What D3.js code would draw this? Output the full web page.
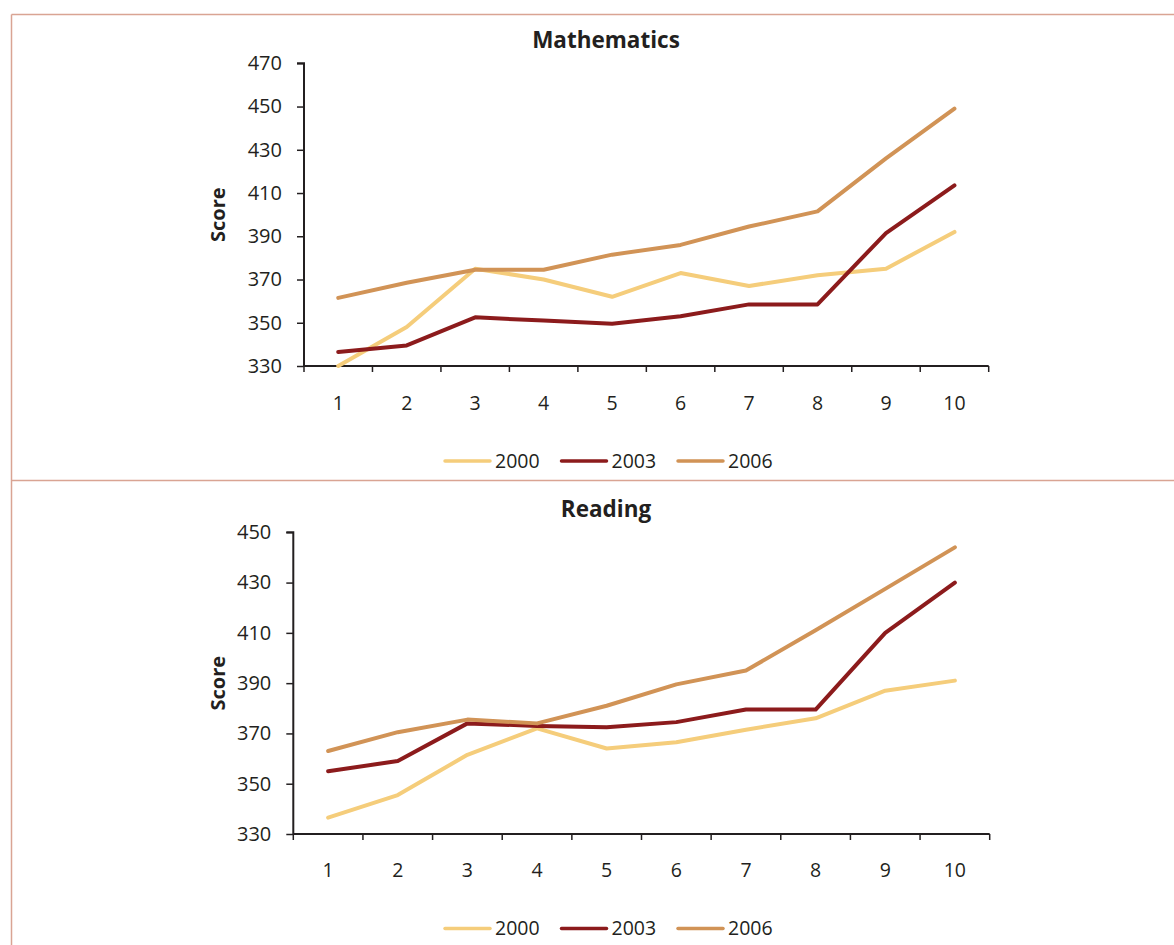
<!DOCTYPE html>
<html>
<head>
<meta charset="utf-8">
<script src="https://cdn.jsdelivr.net/npm/d3@7"></script>
<style>
  html, body { margin: 0; padding: 0; background: #fff; }
  svg { display: block; }
  text { font-family: "Open Sans", "Noto Sans", sans-serif; fill: #231f20; }
</style>
</head>
<body>
<div id="chart"></div>
<script>
// ---- Data ----
const categories = ["1", "2", "3", "4", "5", "6", "7", "8", "9", "10"];
const seriesNames = ["2000", "2003", "2006"];
const seriesColors = ["#f5cd7b", "#8c1b1c", "#d19356"];

const mathTitle = "Mathematics";
const math2000 = [330, 348, 375, 370, 362, 373, 367, 372, 375, 392];
const math2003 = [336.5, 339.5, 352.5, 351, 349.5, 353, 358.5, 358.5, 391.5, 413.5];
const math2006 = [361.5, 368.5, 374.5, 374.5, 381.5, 386, 394.5, 401.5, 426, 449];
const mathTicks = [330, 350, 370, 390, 410, 430, 450, 470];

const readTitle = "Reading";
const read2000 = [336.5, 345.5, 361.5, 372, 364, 366.5, 371.5, 376, 387, 391];
const read2003 = [355, 359, 374, 373, 372.5, 374.5, 379.5, 379.5, 410, 430];
const read2006 = [363, 370.5, 375.5, 374, 381, 389.5, 395, 411, 427.5, 444];
const readTicks = [330, 350, 370, 390, 410, 430, 450];

const yLabel = "Score";

// ---- Layout ----
const W = 1174, H = 945;
const svg = d3.select("#chart").append("svg").attr("width", W).attr("height", H);

const frameColor = "#d9a493";
svg.append("line").attr("x1", 11.5).attr("x2", W).attr("y1", 14.5).attr("y2", 14.5)
  .attr("stroke", frameColor).attr("stroke-width", 1.5);
svg.append("line").attr("x1", 11.5).attr("x2", W).attr("y1", 480.5).attr("y2", 480.5)
  .attr("stroke", frameColor).attr("stroke-width", 1.5);
svg.append("line").attr("x1", 11.5).attr("x2", 11.5).attr("y1", 14.5).attr("y2", H)
  .attr("stroke", frameColor).attr("stroke-width", 1.5);

const panels = [
  { title: mathTitle, series: [math2000, math2003, math2006], ticks: mathTicks,
    domain: [330, 470], left: 304, right: 988.7, top: 63.3, bottom: 366,
    titleY: 48, legendY: 461, legendX: 445, xPad: 30 },
  { title: readTitle, series: [read2000, read2003, read2006], ticks: readTicks,
    domain: [330, 450], left: 293.3, right: 989.7, top: 532.3, bottom: 834,
    titleY: 517, legendY: 928.5, legendX: 445, xPad: 29 }
];

const axisColor = "#231f20";

panels.forEach(p => {
  const g = svg.append("g");
  const x = d3.scaleBand().domain(categories).range([p.left, p.right]).paddingInner(0).paddingOuter(0);
  const y = d3.scaleLinear().domain(p.domain).range([p.bottom, p.top]);

  // title
  g.append("text").attr("x", 606).attr("y", p.titleY)
    .attr("text-anchor", "middle").attr("font-weight", "bold").attr("font-size", 22.5)
    .text(p.title);

  // y axis
  const yAxis = d3.axisLeft(y).tickValues(p.ticks).tickSize(7).tickPadding(15).tickFormat(d3.format("d"));
  const ya = g.append("g").attr("transform", `translate(${p.left},0)`).call(yAxis);
  ya.select(".domain").attr("stroke", axisColor).attr("stroke-width", 2).attr("d", `M-7,${p.top}H0V${p.bottom}`);
  ya.selectAll(".tick line").attr("stroke", axisColor).attr("stroke-width", 1.5);
  ya.selectAll(".tick text").attr("font-size", 20).attr("fill", axisColor)
    .style("font-family", '"Open Sans", sans-serif');

  // x axis (labels at centres, ticks at band edges)
  const xAxis = d3.axisBottom(x).tickSize(0).tickPadding(p.xPad);
  const xa = g.append("g").attr("transform", `translate(0,${p.bottom})`).call(xAxis);
  xa.select(".domain").attr("stroke", axisColor).attr("stroke-width", 2)
    .attr("d", `M${p.left},0H${p.right}`);
  xa.selectAll(".tick text").attr("font-size", 19.5).attr("fill", axisColor)
    .style("font-family", '"Open Sans", sans-serif');
  const edges = categories.map(c => x(c)).concat([x.range()[1]]);
  xa.selectAll(".edge").data(edges).enter().append("line").attr("class", "edge")
    .attr("x1", d => d).attr("x2", d => d).attr("y1", 0).attr("y2", 6)
    .attr("stroke", axisColor).attr("stroke-width", 1.5);

  // y label
  g.append("text")
    .attr("transform", `translate(${225},${(p.top + p.bottom) / 2}) rotate(-90)`)
    .attr("text-anchor", "middle").attr("font-weight", "bold").attr("font-size", 20)
    .text(yLabel);

  // lines
  const line = d3.line().x((d, i) => x(categories[i]) + x.bandwidth() / 2).y(d => y(d));
  p.series.forEach((s, k) => {
    g.append("path").datum(s).attr("d", line).attr("fill", "none")
      .attr("stroke", seriesColors[k]).attr("stroke-width", 4)
      .attr("stroke-linejoin", "round").attr("stroke-linecap", "round");
  });

  // legend
  const lg = g.append("g").attr("transform", `translate(${p.legendX},${p.legendY})`);
  seriesNames.forEach((n, k) => {
    const ox = k * 116.5;
    lg.append("line").attr("x1", ox).attr("x2", ox + 45).attr("y1", 0).attr("y2", 0)
      .attr("stroke", seriesColors[k]).attr("stroke-width", 3.5).attr("stroke-linecap", "round");
    lg.append("text").attr("x", ox + 50).attr("y", 0).attr("dy", "0.35em")
      .attr("font-size", 19.5).text(n);
  });
});
</script>
</body>
</html>
